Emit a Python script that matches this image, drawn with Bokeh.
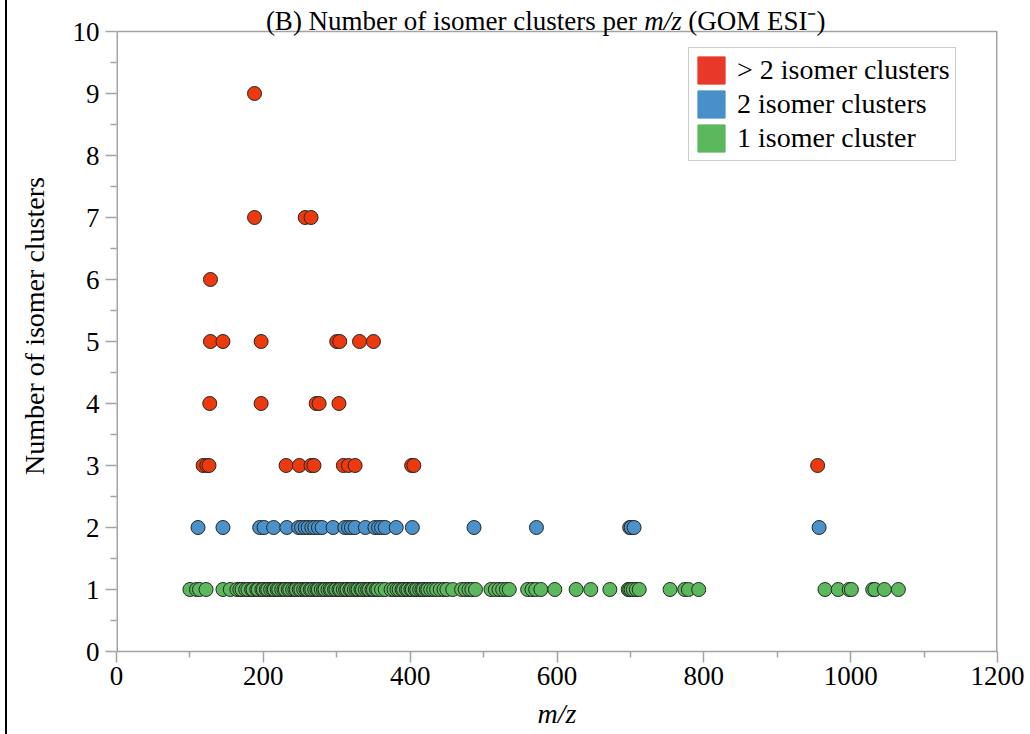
from bokeh.plotting import figure
from bokeh.layouts import row
from bokeh.models import ColumnDataSource, Legend, LegendItem, FixedTicker, Range1d, Div
from bokeh.core.properties import value
from bokeh.embed import file_html
from bokeh.resources import INLINE

# ---- data (m/z, number of isomer clusters) ----
mz_gt2 = [188, 188, 257, 265, 128, 128, 145, 197, 300, 304, 331, 350,
          127, 197, 272, 276, 303,
          118, 123, 126, 231, 249, 265, 269, 309, 316, 325, 402, 405, 955]
n_gt2 = [9, 7, 7, 7, 6, 5, 5, 5, 5, 5, 5, 5,
         4, 4, 4, 4, 4,
         3, 3, 3, 3, 3, 3, 3, 3, 3, 3, 3, 3, 3]

mz_2 = [111, 145, 195, 201, 214, 232, 248, 252, 257, 261, 266, 270, 275, 280,
        295, 311, 316, 320, 325, 339, 352, 357, 361, 366, 381, 403, 487, 572,
        699, 701, 705, 957]
n_2 = [2] * len(mz_2)

mz_1 = [100, 109, 113, 122, 145, 155, 164, 168, 171, 176, 179, 184, 186, 191,
        193, 198, 200, 204, 206, 210, 213, 215, 219, 221, 225, 228, 230, 234,
        236, 240, 243, 245, 249, 251, 255, 258, 260, 264, 266, 270, 273, 275,
        279, 282, 284, 288, 291, 293, 297, 299, 303, 305, 309, 312, 314, 318,
        320, 324, 327, 329, 333, 335, 339, 342, 344, 348, 350, 354, 356, 361,
        366, 374, 378, 382, 385, 389, 391, 395, 397, 401, 403, 407, 409, 413,
        416, 418, 422, 424, 428, 432, 436, 441, 446, 450, 458, 470, 475, 480,
        484, 489, 510, 516, 521, 526, 531, 535, 560, 566, 571, 578, 597, 626,
        646, 672, 697, 699, 701, 704, 708, 712, 754, 774, 779, 793,
        965, 983, 998, 1001, 1030, 1033, 1046, 1065]
n_1 = [1] * len(mz_1)

x_ticks = [0, 200, 400, 600, 800, 1000, 1200]
x_minor = [100, 300, 500, 700, 900, 1100]
y_ticks = [0, 1, 2, 3, 4, 5, 6, 7, 8, 9, 10]
y_minor = [0.5, 1.5, 2.5, 3.5, 4.5, 5.5, 6.5, 7.5, 8.5, 9.5]
x_max = 1200
y_max = 10

labels = ["> 2 isomer clusters", "2 isomer clusters", "1 isomer cluster"]
pt_colors = ["#EC3A0E", "#4A92C9", "#5CB85C"]
lg_colors = ["#E8382A", "#4A90C8", "#5CB85C"]

title_parts = ["(B) Number of isomer clusters per", "m/z", "(GOM ESI\u207b)"]
title_styles = ["normal", "italic", "normal"]
title_aligns = ["right", "left", "left"]
title_x = [709.0, 718.7, 778.7]

FONT = "Liberation Serif"
GREY = "#a3a3a3"

p = figure(width=1023, height=734, output_backend="svg", toolbar_location=None,
           x_range=Range1d(0, x_max), y_range=Range1d(0, 10.5),
           min_border_left=109, min_border_right=33, min_border_top=0,
           min_border_bottom=83)
p.xgrid.visible = False
p.ygrid.visible = False
p.outline_line_color = None

for ax in (p.xaxis[0], p.yaxis[0]):
    ax.axis_line_color = GREY
    ax.axis_line_width = 1.5
    ax.major_tick_line_color = GREY
    ax.major_tick_line_width = 1.5
    ax.minor_tick_line_color = GREY
    ax.minor_tick_line_width = 1.5
    ax.major_tick_out = 11
    ax.major_tick_in = 0
    ax.minor_tick_out = 6
    ax.minor_tick_in = 0
    ax.major_label_text_font = FONT
    ax.major_label_text_font_size = "27px"
    ax.major_label_text_color = "black"
    ax.axis_label_text_font = FONT
    ax.axis_label_text_font_size = "28px"
    ax.axis_label_text_color = "black"

p.yaxis.axis_line_color = None
p.xaxis.ticker = FixedTicker(ticks=x_ticks, minor_ticks=x_minor)
p.yaxis.ticker = FixedTicker(ticks=y_ticks, minor_ticks=y_minor)
p.xaxis.axis_label = "m/z"
p.xaxis.axis_label_text_font_style = "italic"
p.yaxis.axis_label = "Number of isomer clusters"
p.yaxis.axis_label_text_font_style = "normal"
p.xaxis.major_label_standoff = 4
p.xaxis.axis_label_standoff = 10
p.yaxis.major_label_standoff = 6
p.yaxis.axis_label_standoff = 20

# plot box: left, top, right borders
p.segment(x0=[0, 0, x_max], y0=[0, y_max, 0], x1=[0, x_max, x_max], y1=[y_max, y_max, y_max],
          line_color=GREY, line_width=[3, 1.5, 3])

series = [(mz_gt2, n_gt2), (mz_2, n_2), (mz_1, n_1)]
for (xs, ys), c in zip(series, pt_colors):
    order = sorted(range(len(xs)), key=lambda i: xs[i])
    src = ColumnDataSource(dict(x=[xs[i] for i in order], y=[ys[i] for i in order]))
    p.scatter("x", "y", source=src, marker="circle", size=14, fill_color=c,
              line_color="#262626", line_width=1)

items = []
for lab, c in zip(labels, lg_colors):
    r = p.rect(x=[-500], y=[-500], width=1, height=1, fill_color=c, line_color=c)
    items.append(LegendItem(label=lab, renderers=[r]))

legend = Legend(items=items, location=(572, 490), padding=5, spacing=0,
                glyph_width=34, glyph_height=34, label_height=34, label_standoff=9,
                label_text_font=FONT, label_text_font_size="28px",
                label_text_color="black",
                border_line_color="#999999", border_line_width=1,
                background_fill_color="white", background_fill_alpha=1)
p.add_layout(legend, "center")

# title drawn inside the (extended) frame
for t, st, al, tx in zip(title_parts, title_styles, title_aligns, title_x):
    p.text(x=[tx], y=[10.165], text=[t], text_align=al, text_baseline="alphabetic",
           text_font=value(FONT), text_font_style=st, text_font_size="27px",
           text_color="black")

# thin black edge at the far left of the picture
edge = Div(text='<div style="margin-left:5px;width:2px;height:734px;background:black;"></div>',
           width=7, height=734, margin=0)

layout = row(edge, p, spacing=0)
open("out.html", "w").write(file_html(layout, INLINE))
